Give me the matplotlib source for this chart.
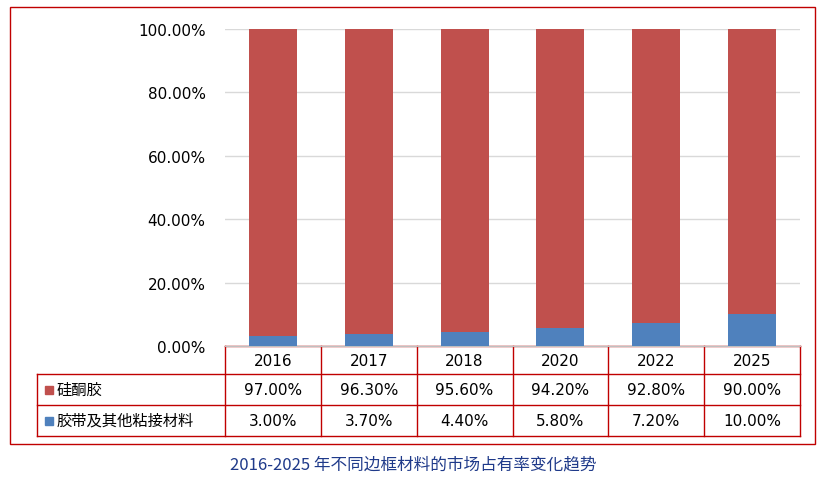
import matplotlib.pyplot as plt
from matplotlib import font_manager
from matplotlib.patches import Rectangle

cjk_names = sorted({f.name for f in font_manager.fontManager.ttflist if 'CJK' in f.name})
cjk = cjk_names[0] if cjk_names else 'DejaVu Sans'
for pref in ['Noto Sans CJK SC', 'Noto Sans CJK JP']:
    if pref in cjk_names:
        cjk = pref
        break
plt.rcParams['font.family'] = ['DejaVu Sans', cjk]

years = ['2016', '2017', '2018', '2020', '2022', '2025']
silicone = [97.0, 96.3, 95.6, 94.2, 92.8, 90.0]
tape = [3.0, 3.7, 4.4, 5.8, 7.2, 10.0]
series_names = ['硅酮胶', '胶带及其他粘接材料']
title = '2016-2025 年不同边框材料的市场占有率变化趋势'

red = '#C0504D'
blue = '#4F81BD'
line_c = '#C00000'

fig = plt.figure(figsize=(8.27, 4.89), dpi=100)
W, H = 827, 489
ax = fig.add_axes([225 / W, 1 - 347 / H, 575 / W, 317 / H])

x = range(len(years))
ax.bar(x, tape, width=0.5, color=blue, zorder=3)
ax.bar(x, silicone, width=0.5, bottom=tape, color=red, zorder=3)
ax.set_xlim(-0.5, len(years) - 0.5)
ax.set_ylim(0, 100)
ax.set_yticks([0, 20, 40, 60, 80, 100])
ax.set_yticklabels([f'{v:.2f}%' for v in [0, 20, 40, 60, 80, 100]], fontsize=11)
ax.yaxis.grid(True, color='#D9D9D9', lw=1, zorder=0)
ax.set_xticks([])
ax.tick_params(axis='y', length=0, pad=14)
for s in ['top', 'right', 'left']:
    ax.spines[s].set_visible(False)
ax.spines['bottom'].set_color('#BFBFBF')

# data table under the axes
ph = 317
h0, h1, h2 = 28 / ph, 31 / ph, 31 / ph
y_lines = [0, -h0, -h0 - h1, -h0 - h1 - h2]
xl = (37 - 225) / 575
kw = dict(transform=ax.transAxes, clip_on=False, color=line_c, lw=1)
for i, yy in enumerate(y_lines):
    ax.plot([0 if i == 0 else xl, 1], [yy, yy], **kw)
for i in range(len(years) + 1):
    ax.plot([i / len(years)] * 2, [0, y_lines[-1]], **kw)
ax.plot([xl, xl], [y_lines[1], y_lines[-1]], **kw)

n = len(years)
for i, yr in enumerate(years):
    cx = (i + 0.5) / n
    ax.text(cx, -h0 / 2, yr, transform=ax.transAxes, ha='center', va='center', fontsize=11)
    ax.text(cx, -h0 - h1 / 2, f'{silicone[i]:.2f}%', transform=ax.transAxes, ha='center', va='center', fontsize=11)
    ax.text(cx, -h0 - h1 - h2 / 2, f'{tape[i]:.2f}%', transform=ax.transAxes, ha='center', va='center', fontsize=11)

for name, c, yc in [(series_names[0], red, -h0 - h1 / 2), (series_names[1], blue, -h0 - h1 - h2 / 2)]:
    ax.add_patch(Rectangle((xl + 8 / 575, yc - 4 / ph), 8 / 575, 8 / ph, transform=ax.transAxes,
                           clip_on=False, color=c))
    ax.text(xl + 20 / 575, yc, name, transform=ax.transAxes, ha='left', va='center',
            fontsize=11, family=cjk)

# outer border
fig.add_artist(Rectangle((10 / W, 1 - 445 / H), 805 / W, 437 / H, transform=fig.transFigure,
                         fill=False, edgecolor=line_c, lw=1))

fig.text(0.5, 1 - 465 / H, title, ha='center', va='center', fontsize=12,
         color='#1F3A8A', family=cjk)

fig.savefig('out.png', dpi=100)
